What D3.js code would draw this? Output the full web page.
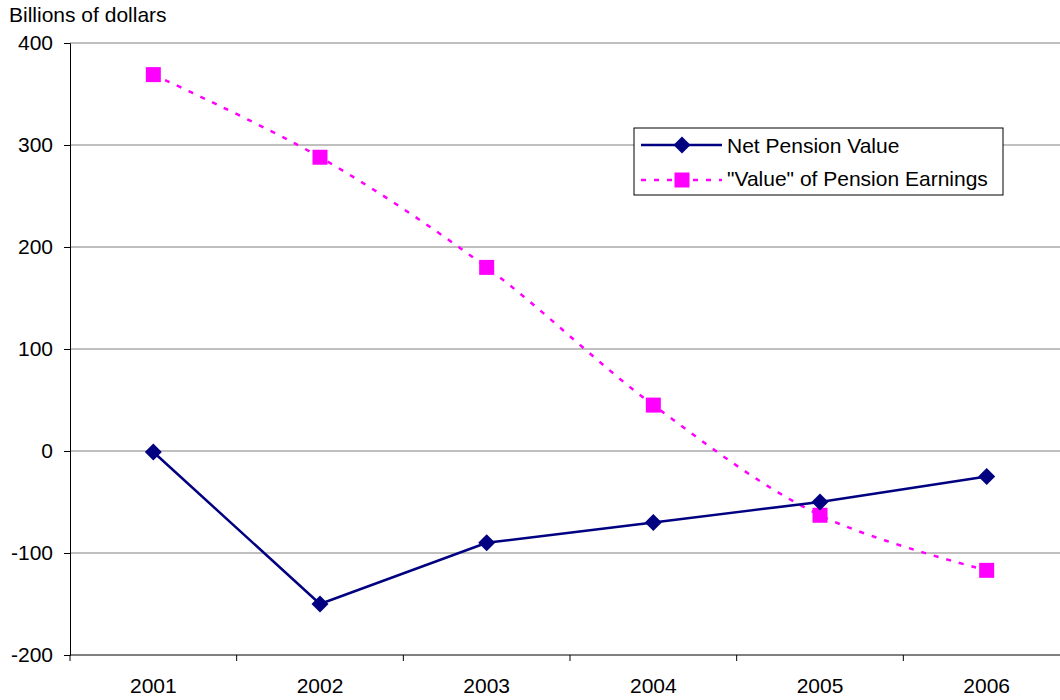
<!DOCTYPE html>
<html>
<head>
<meta charset="utf-8">
<script src="https://cdn.jsdelivr.net/npm/d3@7"></script>
<style>
  body { margin: 0; background: #fff; }
  text { font-family: "Liberation Sans", Arial, sans-serif; fill: #000; }
</style>
</head>
<body>
<div id="chart"></div>
<script>
var years = ["2001", "2002", "2003", "2004", "2005", "2006"];
var netPension = [-1, -150, -90, -70, -50, -25];
var pensionEarnings = [369, 288, 180, 45, -63, -117];
var yTicks = [-200, -100, 0, 100, 200, 300, 400];
var seriesNames = ["Net Pension Value", "\"Value\" of Pension Earnings"];

var width = 1060, height = 700;
var plotLeft = 70, plotRight = 1070, plotTop = 43, plotBottom = 655;
var fontSize = "21px";

var svg = d3.select("#chart").append("svg")
    .attr("width", width)
    .attr("height", height);

var x = d3.scalePoint().domain(years).range([plotLeft, plotRight]).padding(0.5);
var xBand = d3.scaleBand().domain(years).range([plotLeft, plotRight]);
var y = d3.scaleLinear().domain([-200, 400]).range([plotBottom, plotTop]);

// grid lines
svg.append("g").selectAll("line")
    .data(yTicks.filter(function(d) { return d > -200; }))
    .enter().append("line")
    .attr("x1", plotLeft).attr("x2", plotRight)
    .attr("y1", function(d) { return y(d); })
    .attr("y2", function(d) { return y(d); })
    .attr("stroke", "#808080")
    .attr("stroke-width", 1);

// y axis
var yAxis = d3.axisLeft(y)
    .tickValues(yTicks)
    .tickSize(6)
    .tickPadding(11)
    .tickFormat(function(d) { return String(d); });
var gy = svg.append("g")
    .attr("transform", "translate(" + plotLeft + ",0)")
    .call(yAxis);
gy.select(".domain").attr("stroke", "#000");
gy.selectAll(".tick line").attr("stroke", "#000");
gy.selectAll("text").style("font-size", fontSize);

// x axis (ticks between categories)
svg.append("line")
    .attr("x1", plotLeft).attr("x2", plotRight)
    .attr("y1", plotBottom).attr("y2", plotBottom)
    .attr("stroke", "#000");
svg.append("g").selectAll("line")
    .data(years)
    .enter().append("line")
    .attr("x1", function(d) { return xBand(d); })
    .attr("x2", function(d) { return xBand(d); })
    .attr("y1", plotBottom).attr("y2", plotBottom + 6)
    .attr("stroke", "#000");
svg.append("g").selectAll("text")
    .data(years)
    .enter().append("text")
    .attr("x", function(d) { return x(d); })
    .attr("y", plotBottom + 38)
    .attr("text-anchor", "middle")
    .style("font-size", fontSize)
    .text(function(d) { return d; });

svg.append("text")
    .attr("x", 9)
    .attr("y", 22)
    .style("font-size", fontSize)
    .text("Billions of dollars");

// series
var netData = years.map(function(d, i) { return { year: d, value: netPension[i] }; });
var earnData = years.map(function(d, i) { return { year: d, value: pensionEarnings[i] }; });

var straight = d3.line()
    .x(function(d) { return x(d.year); })
    .y(function(d) { return y(d.value); });
var smooth = d3.line()
    .x(function(d) { return x(d.year); })
    .y(function(d) { return y(d.value); })
    .curve(d3.curveCatmullRom.alpha(0.5));

svg.append("path")
    .attr("d", smooth(earnData))
    .attr("fill", "none")
    .attr("stroke", "#ff00ff")
    .attr("stroke-width", 2.5)
    .attr("stroke-dasharray", "5,8");

svg.append("path")
    .attr("d", straight(netData))
    .attr("fill", "none")
    .attr("stroke", "#000080")
    .attr("stroke-width", 2.5);

var sq = 15, dm = 8.5;
svg.append("g").selectAll("rect")
    .data(earnData)
    .enter().append("rect")
    .attr("x", function(d) { return x(d.year) - sq / 2; })
    .attr("y", function(d) { return y(d.value) - sq / 2; })
    .attr("width", sq).attr("height", sq)
    .attr("fill", "#ff00ff");

function diamond(cx, cy, r) {
    return "M" + cx + "," + (cy - r) + "L" + (cx + r) + "," + cy +
        "L" + cx + "," + (cy + r) + "L" + (cx - r) + "," + cy + "Z";
}
svg.append("g").selectAll("path")
    .data(netData)
    .enter().append("path")
    .attr("d", function(d) { return diamond(x(d.year), y(d.value), dm); })
    .attr("fill", "#000080");

// legend
var lg = svg.append("g").attr("transform", "translate(634,128)");
lg.append("rect")
    .attr("width", 369).attr("height", 67)
    .attr("fill", "#fff")
    .attr("stroke", "#000")
    .attr("stroke-width", 1);
lg.append("line")
    .attr("x1", 7).attr("x2", 88).attr("y1", 17).attr("y2", 17)
    .attr("stroke", "#000080").attr("stroke-width", 2.5);
lg.append("path")
    .attr("d", diamond(48, 17, dm))
    .attr("fill", "#000080");
lg.append("line")
    .attr("x1", 7).attr("x2", 88).attr("y1", 52).attr("y2", 52)
    .attr("stroke", "#ff00ff").attr("stroke-width", 2.5)
    .attr("stroke-dasharray", "5,8");
lg.append("rect")
    .attr("x", 48 - sq / 2).attr("y", 52 - sq / 2)
    .attr("width", sq).attr("height", sq)
    .attr("fill", "#ff00ff");
lg.selectAll("text.lab")
    .data(seriesNames)
    .enter().append("text")
    .attr("class", "lab")
    .attr("x", 93)
    .attr("y", function(d, i) { return 25 + i * 33; })
    .style("font-size", fontSize)
    .text(function(d) { return d; });
</script>
</body>
</html>
